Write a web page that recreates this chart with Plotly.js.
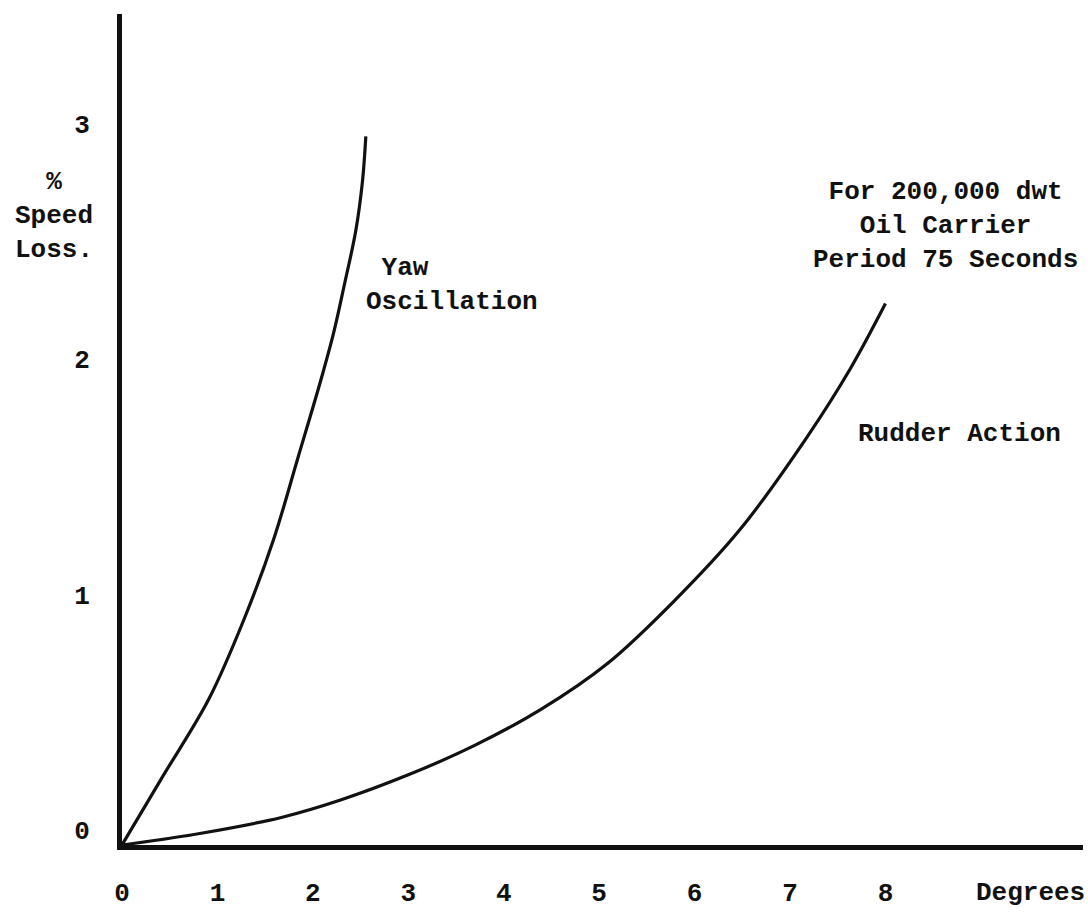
<!DOCTYPE html>
<html>
<head>
<meta charset="utf-8">
<script src="https://cdn.plot.ly/plotly-3.0.1.min.js"></script>
<style>
html,body{margin:0;padding:0;background:#fff;}
#chart{width:1088px;height:914px;}
</style>
</head>
<body>
<div id="chart"></div>
<script>
// Degrees of yaw / rudder vs % speed loss
var yawDeg   = [0, 0.41, 0.91, 1.28, 1.59, 1.84, 2.08, 2.22, 2.33, 2.45, 2.52, 2.555];
var yawLoss  = [0, 0.28, 0.62, 0.96, 1.30, 1.64, 1.97, 2.18, 2.38, 2.61, 2.82, 3.01];
var rudDeg   = [0, 0.83, 1.67, 2.29, 3.0, 3.69, 4.39, 5.09, 5.78, 6.48, 7.18, 7.63, 8.0];
var rudLoss  = [0, 0.05, 0.117, 0.191, 0.298, 0.422, 0.576, 0.772, 1.034, 1.342, 1.734, 2.022, 2.30];
var xTicks   = [0, 1, 2, 3, 4, 5, 6, 7, 8];
var yTicks   = [0, 1, 2, 3];

var FONT = "'Liberation Mono', 'DejaVu Sans Mono', monospace";
var INK = '#111111';

var traces = [
  {x: yawDeg, y: yawLoss, mode: 'lines', name: 'Yaw Oscillation',
   line: {color: INK, width: 3.2, shape: 'spline', smoothing: 1}},
  {x: rudDeg, y: rudLoss, mode: 'lines', name: 'Rudder Action',
   line: {color: INK, width: 3.2, shape: 'spline', smoothing: 1}}
];

var layout = {
  width: 1088, height: 914,
  margin: {l: 122, r: 5, t: 14, b: 69},
  paper_bgcolor: '#ffffff', plot_bgcolor: '#ffffff',
  showlegend: false,
  font: {family: FONT, size: 26, color: INK},
  xaxis: {
    range: [0, 10.07], showgrid: false, zeroline: false,
    showline: true, linecolor: INK, linewidth: 4.5,
    ticks: '', tickvals: xTicks, ticktext: xTicks.map(String),
    tickfont: {family: FONT, size: 26, color: INK, weight: 'bold'},
    ticklabelstandoff: 20
  },
  yaxis: {
    range: [0, 3.53], showgrid: false, zeroline: false,
    showline: true, linecolor: INK, linewidth: 5,
    ticks: '', tickvals: yTicks, ticktext: yTicks.map(String),
    tickfont: {family: FONT, size: 26, color: INK, weight: 'bold'},
    ticklabelstandoff: 22, ticklabelshift: -15
  },
  annotations: [
    {text: '%<br>Speed<br>Loss.', xref: 'paper', yref: 'paper', x: -0.071, y: 0.757,
     xanchor: 'center', yanchor: 'middle', showarrow: false, align: 'center',
     font: {family: FONT, size: 26, color: INK, weight: 'bold'}},
    {text: ' Yaw<br>Oscillation', xref: 'x', yref: 'y', x: 2.54, y: 2.38,
     xanchor: 'left', yanchor: 'middle', showarrow: false, align: 'left',
     font: {family: FONT, size: 26, color: INK, weight: 'bold'}},
    {text: 'For 200,000 dwt<br>Oil Carrier<br>Period 75 Seconds', xref: 'x', yref: 'y', x: 8.63, y: 2.63,
     xanchor: 'center', yanchor: 'middle', showarrow: false, align: 'center',
     font: {family: FONT, size: 26, color: INK, weight: 'bold'}},
    {text: 'Rudder Action', xref: 'x', yref: 'y', x: 8.78, y: 1.745,
     xanchor: 'center', yanchor: 'middle', showarrow: false,
     font: {family: FONT, size: 26, color: INK, weight: 'bold'}},
    {text: 'Degrees', xref: 'x', yref: 'paper', x: 9.52, y: 0, yshift: -48,
     xanchor: 'center', yanchor: 'middle', showarrow: false,
     font: {family: FONT, size: 26, color: INK, weight: 'bold'}}
  ]
};

Plotly.newPlot('chart', traces, layout, {displayModeBar: false, staticPlot: true});
</script>
</body>
</html>
